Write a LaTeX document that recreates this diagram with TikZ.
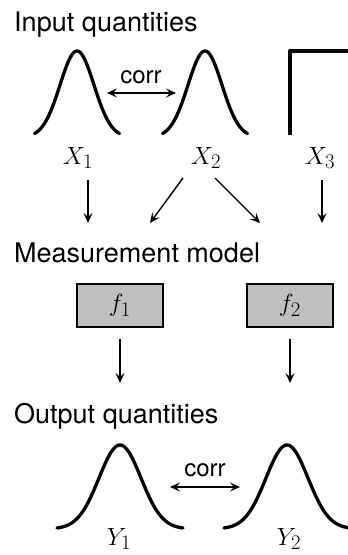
\documentclass[tikz,border=0pt]{standalone}
\usepackage{fontspec}
\newfontfamily\helv{TeX Gyre Heros}
\usetikzlibrary{arrows.meta}
\tikzset{
  curve/.style={line width=3.3pt, line cap=round, line join=round},
  heading/.style={anchor=base west, inner sep=0pt, font=\helv\fontsize{27}{32}\selectfont},
  corrlabel/.style={inner sep=0pt, font=\helv\fontsize{24}{28}\selectfont},
  mathlabel/.style={anchor=base, inner sep=0pt, font=\fontsize{30}{36}\selectfont},
  flow/.style={line width=1.4pt, -{Stealth[length=10pt,width=9pt,inset=4pt]}},
  corrarrow/.style={line width=1.4pt, {Stealth[length=10pt,width=9pt,inset=4pt]}-{Stealth[length=10pt,width=9pt,inset=4pt]}},
  modelbox/.style={draw, line width=1.6pt, fill=black!25, minimum width=86pt, minimum height=43pt, inner sep=0pt, font=\fontsize{30}{36}\selectfont}
}
\begin{document}
\begin{tikzpicture}[x=1pt,y=-1pt]
\useasboundingbox (0,0) rectangle (348,555);
\clip (0,0) rectangle (348,555);
% headings
\node[heading] (hin) at (14,31) {Input quantities};
\node[heading] (hmod) at (14,262) {Measurement model};
\node[heading] (hout) at (14,423) {Output quantities};
% input distributions
\draw[curve] plot[domain=-42.5:42.5, samples=90, smooth] ({77+\x}, {137.3-86.3*exp(-(\x/17)^2/2)});
\draw[curve] plot[domain=-42.5:42.5, samples=90, smooth] ({205+\x}, {137.3-86.3*exp(-(\x/17)^2/2)});
\draw[curve, line cap=butt] (290,135) -- (290,51) -- (360,51);
\node[mathlabel] (x1) at (78,164) {$X_1$};
\node[mathlabel] (x2) at (206,164) {$X_2$};
\node[mathlabel] (x3) at (320,164) {$X_3$};
% correlation inputs
\coordinate (c1a) at (107,93);
\coordinate (c1b) at (176,93);
\draw[corrarrow] (c1a) -- (c1b);
\node[corrlabel] (corr1) at (141,77) {corr};
% arrows to model
\coordinate (a1s) at (88,180);  \coordinate (a1e) at (88,223);
\coordinate (a2s) at (183,178); \coordinate (a2e) at (150,223);
\coordinate (a3s) at (215,178); \coordinate (a3e) at (260,223);
\coordinate (a4s) at (322,180); \coordinate (a4e) at (322,223);
\draw[flow] (a1s) -- (a1e);
\draw[flow] (a2s) -- (a2e);
\draw[flow] (a3s) -- (a3e);
\draw[flow] (a4s) -- (a4e);
% model boxes
\node[modelbox] (f1) at (120,305.5) {$f_1$};
\node[modelbox] (f2) at (290,305.5) {$f_2$};
\coordinate (b1e) at (120,383);
\coordinate (b2e) at (290,383);
\draw[flow] ([yshift=-11pt]f1.south) -- (b1e);
\draw[flow] ([yshift=-11pt]f2.south) -- (b2e);
% output distributions
\draw[curve] plot[domain=-63:63, samples=100, smooth] ({120+\x}, {528.9-83.9*exp(-(\x/21)^2/2)});
\draw[curve] plot[domain=-63:63, samples=100, smooth] ({287+\x}, {528.9-83.9*exp(-(\x/21)^2/2)});
\node[mathlabel] (y1) at (119,545) {$Y_1$};
\node[mathlabel] (y2) at (289,545) {$Y_2$};
\coordinate (c2a) at (170,487);
\coordinate (c2b) at (240,487);
\draw[corrarrow] (c2a) -- (c2b);
\node[corrlabel] (corr2) at (205,470) {corr};
\end{tikzpicture}
\end{document}
